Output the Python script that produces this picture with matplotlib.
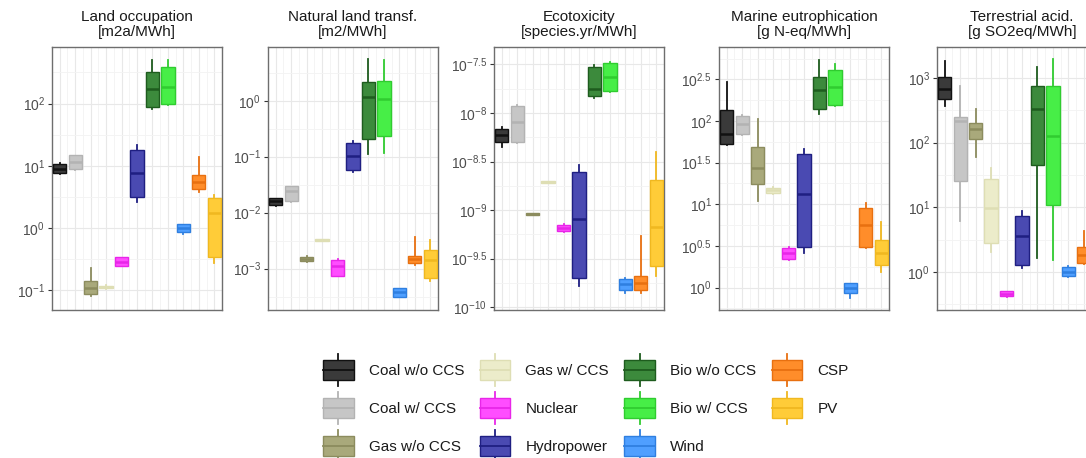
import numpy as np
import matplotlib.pyplot as plt
from matplotlib.legend_handler import HandlerBase
from matplotlib.patches import Patch, Rectangle
from matplotlib.lines import Line2D
from matplotlib.ticker import FixedLocator, NullFormatter

plt.rcParams['font.family'] = ['Liberation Sans', 'DejaVu Sans']
plt.rcParams['mathtext.fontset'] = 'custom'
plt.rcParams['mathtext.rm'] = 'Liberation Sans'
plt.rcParams['mathtext.it'] = 'Liberation Sans:italic'

techs = ["Coal w/o CCS", "Coal w/ CCS", "Gas w/o CCS", "Gas w/ CCS", "Nuclear",
         "Hydropower", "Bio w/o CCS", "Bio w/ CCS", "Wind", "CSP", "PV"]
fills = ["#3a3a3a", "#c6c6c6", "#a9a97b", "#ececca", "#ff4dff", "#4a4ab2",
         "#3c8a3c", "#47ee47", "#4f9fff", "#ff8d2a", "#ffcc38"]
edges = ["#111111", "#b3b3b3", "#8c8c5e", "#dedeb4", "#e826e8", "#1f1f82",
         "#1e5c1e", "#30cc30", "#2f7fe0", "#e87010", "#f0b820"]

# log10 values per technology: [whisker low, q1, median, q3, whisker high]
land_occ = [[0.87, 0.89, 0.94, 1.03, 1.05], [0.93, 0.94, 1.06, 1.17, 1.18],
            [-1.10, -1.07, -0.97, -0.86, -0.65], [-0.98, -0.97, -0.95, -0.93, -0.92],
            [-0.62, -0.61, -0.54, -0.47, -0.46], [0.42, 0.50, 0.88, 1.25, 1.33],
            [1.92, 1.95, 2.24, 2.51, 2.70], [1.97, 2.00, 2.27, 2.59, 2.70],
            [-0.10, -0.06, 0.00, 0.06, 0.07], [0.58, 0.62, 0.74, 0.85, 1.14],
            [-0.57, -0.46, 0.24, 0.48, 0.53]]
nat_land = [[-1.88, -1.86, -1.80, -1.74, -1.73], [-1.81, -1.80, -1.62, -1.53, -1.52],
            [-2.88, -2.86, -2.83, -2.80, -2.78], [-2.51, -2.50, -2.49, -2.48, -2.47],
            [-3.14, -3.13, -2.96, -2.84, -2.83], [-1.27, -1.23, -0.98, -0.75, -0.72],
            [-0.96, -0.69, 0.06, 0.33, 0.75], [-0.93, -0.63, 0.03, 0.36, 0.72],
            [-3.51, -3.50, -3.42, -3.35, -3.34], [-2.93, -2.90, -2.83, -2.77, -2.43],
            [-3.23, -3.17, -2.84, -2.66, -2.49]]
ecotox = [[-8.35, -8.30, -8.23, -8.16, -8.14], [-8.31, -8.30, -8.09, -7.93, -7.92],
          [-9.05, -9.05, -9.04, -9.03, -9.03], [-8.72, -8.72, -8.71, -8.70, -8.70],
          [-9.23, -9.22, -9.19, -9.15, -9.14], [-9.78, -9.70, -9.09, -8.61, -8.54],
          [-7.85, -7.82, -7.75, -7.53, -7.51], [-7.78, -7.77, -7.63, -7.48, -7.47],
          [-9.85, -9.82, -9.76, -9.71, -9.70], [-9.85, -9.82, -9.75, -9.68, -9.27],
          [-9.68, -9.58, -9.17, -8.69, -8.40]]
marine = [[1.71, 1.72, 1.84, 2.13, 2.47], [1.83, 1.84, 1.96, 2.06, 2.07],
          [1.04, 1.24, 1.44, 1.69, 2.02], [1.12, 1.13, 1.17, 1.20, 1.21],
          [0.33, 0.34, 0.41, 0.48, 0.49], [0.42, 0.49, 1.12, 1.60, 1.66],
          [2.08, 2.15, 2.37, 2.53, 2.73], [2.18, 2.19, 2.41, 2.61, 2.69],
          [-0.13, -0.07, -0.01, 0.05, 0.06], [0.47, 0.49, 0.75, 0.96, 1.02],
          [0.19, 0.27, 0.41, 0.57, 0.79]]
terr_acid = [[2.57, 2.67, 2.83, 3.02, 3.27], [0.78, 1.40, 2.34, 2.39, 2.88],
             [1.77, 2.05, 2.21, 2.31, 2.52], [0.30, 0.45, 0.99, 1.43, 1.60],
             [-0.39, -0.38, -0.34, -0.30, -0.29], [0.06, 0.11, 0.55, 0.86, 0.94],
             [0.21, 1.66, 2.52, 2.87, 3.17], [0.19, 1.04, 2.10, 2.87, 3.30],
             [-0.08, -0.07, 0.00, 0.08, 0.09], [0.12, 0.13, 0.26, 0.39, 0.63],
             [0.00, 0.20, 0.35, 0.50, 0.70]]

panels = [land_occ, nat_land, ecotox, marine, terr_acid]
titles = ["Land occupation\n[m2a/MWh]", "Natural land transf.\n[m2/MWh]",
          "Ecotoxicity\n[species.yr/MWh]", "Marine eutrophication\n[g N-eq/MWh]",
          "Terrestrial acid.\n[g SO2eq/MWh]"]
ylims = [(-1.32, 2.91), (-3.74, 0.96), (-10.03, -7.32), (-0.27, 2.89), (-0.59, 3.48)]
yticks = [[-1, 0, 1, 2], [-3, -2, -1, 0], [-10, -9.5, -9, -8.5, -8, -7.5],
          [0, 0.5, 1, 1.5, 2, 2.5], [0, 1, 2, 3]]

W, H = 1086, 458
lefts = [52, 268, 494, 719, 937]
top, bottom, pw = 47, 310, 170

fig = plt.figure(figsize=(W / 100, H / 100), dpi=100)

for k, data in enumerate(panels):
    ax = fig.add_axes([lefts[k] / W, 1 - bottom / H, pw / W, (bottom - top) / H])
    stats = []
    for row in data:
        lo, q1, med, q3, hi = [10.0 ** v for v in row]
        stats.append(dict(whislo=lo, q1=q1, med=med, q3=q3, whishi=hi, fliers=[]))
    res = ax.bxp(stats, positions=np.arange(len(techs)), widths=0.86,
                 patch_artist=True, showfliers=False, showcaps=False,
                 manage_ticks=False)
    for i in range(len(techs)):
        res['boxes'][i].set(facecolor=fills[i], edgecolor=edges[i], lw=1.0, zorder=3)
        res['medians'][i].set(color=edges[i], lw=1.8, zorder=4)
        for w in res['whiskers'][2 * i:2 * i + 2]:
            w.set(color=edges[i], lw=1.3, zorder=2)

    ax.set_yscale('log')
    lo_lim, hi_lim = ylims[k]
    ax.set_ylim(10 ** lo_lim, 10 ** hi_lim)
    ax.set_xlim(-0.5, len(techs) - 0.5)

    ticks = yticks[k]
    step = ticks[1] - ticks[0]
    ax.yaxis.set_major_locator(FixedLocator([10.0 ** t for t in ticks]))
    ax.set_yticklabels(["$10^{%g}$" % t for t in ticks])
    minors = [t + step / 2 for t in [ticks[0] - step] + ticks]
    ax.yaxis.set_minor_locator(FixedLocator([10.0 ** t for t in minors]))
    ax.yaxis.set_minor_formatter(NullFormatter())

    ax.set_xticks(np.arange(len(techs)))
    ax.set_xticks(np.arange(-0.5, len(techs)), minor=True)
    ax.tick_params(axis='x', which='both', length=0, labelbottom=False)
    ax.tick_params(axis='y', which='major', length=3, width=0.8, color='#333333',
                   labelcolor='#4d4d4d', labelsize=10, pad=2)
    ax.tick_params(axis='y', which='minor', length=0)

    ax.set_axisbelow(True)
    ax.grid(which='major', color='#e8e8e8', lw=0.8)
    ax.grid(which='minor', color='#f3f3f3', lw=0.6)
    for s in ax.spines.values():
        s.set_color('#6e6e6e')
        s.set_linewidth(1.0)
    ax.set_title(titles[k], fontsize=11, color='#1a1a1a', pad=8, linespacing=1.1)


class BoxKey(HandlerBase):
    def create_artists(self, legend, orig, xd, yd, w, h, fs, trans):
        x0, y0 = -xd, -yd
        ec = orig.get_edgecolor()
        cx = x0 + w / 2
        whisk = Line2D([cx, cx], [y0, y0 + h], color=ec, lw=1.3, transform=trans)
        box = Rectangle((x0, y0 + h * 0.19), w, h * 0.62, facecolor=orig.get_facecolor(),
                        edgecolor=ec, lw=1.0, transform=trans)
        med = Line2D([x0, x0 + w], [y0 + h / 2] * 2, color=ec, lw=1.3, transform=trans)
        return [whisk, box, med]


handles = [Patch(facecolor=f, edgecolor=e) for f, e in zip(fills, edges)]
fig.legend(handles, techs, handler_map={Patch: BoxKey()}, ncol=4,
           loc='upper left', bbox_to_anchor=(323 / W, 1 - 354 / H),
           frameon=False, fontsize=11, handlelength=2.0, handleheight=2.84,
           handletextpad=1.0, labelspacing=0.4, columnspacing=1.0,
           borderpad=0, borderaxespad=0, labelcolor='#1a1a1a')

fig.savefig("out.png", dpi=100, facecolor="white")
